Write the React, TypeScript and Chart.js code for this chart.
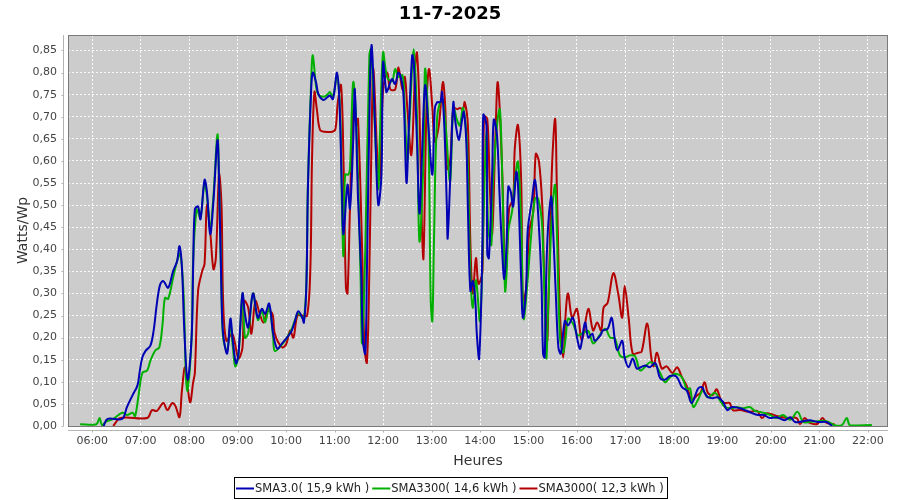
import React, { useEffect, useRef } from "react";
import { Chart, registerables } from "chart.js";

Chart.register(...registerables);

const TITLE = "11-7-2025";
const X_TITLE = "Heures";
const Y_TITLE = "Watts/Wp";
const FONT = "'DejaVu Sans', sans-serif";

const seriesLabels = ["SMA3.0( 15,9 kWh )", "SMA3300( 14,6 kWh )", "SMA3000( 12,3 kWh )"];
const seriesColors = ["#0000b4", "#00b000", "#b40000"];

// x tick labels (hours of day) and y tick values
const xTickHours = [6, 7, 8, 9, 10, 11, 12, 13, 14, 15, 16, 17, 18, 19, 20, 21, 22];
const yTickValues = [0, 0.05, 0.1, 0.15, 0.2, 0.25, 0.3, 0.35, 0.4, 0.45, 0.5, 0.55, 0.6, 0.65, 0.7, 0.75, 0.8, 0.85];

// SMA3.0 — time in minutes since midnight / value in W/Wp
const sma30Minutes = [
  374, 379, 397, 403, 410, 416, 419, 422, 426, 432,
  436, 440, 444, 448, 454, 460, 465, 468, 471, 474,
  478, 483, 485, 487, 491, 494, 499, 502, 506, 510,
  515, 517, 520, 522, 527, 531, 534, 538, 541, 546,
  549, 553, 559, 565, 570, 574, 579, 584, 589, 595,
  601, 607, 611, 615, 620, 622, 625, 627, 631, 633,
  637, 640, 646, 651, 654, 658, 663, 666, 669, 671,
  676, 679, 683, 685, 689, 693, 695, 698, 700, 704,
  706, 710, 714, 718, 720, 724, 726, 731, 735, 739,
  744, 746, 749, 752, 756, 758, 762, 765, 768, 772,
  776, 781, 784, 787, 791, 793, 796, 799, 800, 804,
  807, 809, 812, 814, 818, 820, 823, 825, 828, 831,
  834, 836, 839, 843, 844, 848, 849, 851, 855, 857,
  861, 864, 867, 870, 873, 875, 878, 881, 885, 887,
  891, 893, 897, 899, 904, 908, 912, 916, 918, 920,
  923, 928, 930, 934, 937, 940, 945, 949, 955, 960,
  964, 970, 974, 979, 982, 989, 992, 998, 1003, 1007,
  1010, 1016, 1019, 1024, 1029, 1034, 1039, 1045, 1050, 1057,
  1063, 1069, 1075, 1083, 1090, 1096, 1102, 1110, 1115, 1118,
  1122, 1128, 1134, 1141, 1146, 1152, 1162, 1168, 1177, 1184,
  1191, 1199, 1207, 1217, 1224, 1230, 1240, 1248, 1258, 1269,
  1276,
];
const sma30Values = [
  0, 0.016, 0.016, 0.043, 0.07, 0.092, 0.126, 0.155, 0.17, 0.182,
  0.216, 0.277, 0.32, 0.328, 0.313, 0.35, 0.373, 0.407, 0.36, 0.216,
  0.105, 0.2, 0.367, 0.49, 0.497, 0.468, 0.557, 0.53, 0.434, 0.508,
  0.647, 0.55, 0.3, 0.209, 0.164, 0.243, 0.193, 0.142, 0.164, 0.3,
  0.254, 0.223, 0.3, 0.245, 0.265, 0.254, 0.277, 0.209, 0.175, 0.187,
  0.2, 0.216, 0.238, 0.26, 0.245, 0.234, 0.313, 0.54, 0.762, 0.8,
  0.778, 0.751, 0.738, 0.744, 0.748, 0.74, 0.8, 0.733, 0.537, 0.434,
  0.546, 0.492, 0.643, 0.762, 0.515, 0.344, 0.193, 0.164, 0.35, 0.794,
  0.861, 0.681, 0.501, 0.569, 0.823, 0.756, 0.762, 0.785, 0.774, 0.8,
  0.771, 0.717, 0.55, 0.681, 0.839, 0.823, 0.643, 0.481, 0.605, 0.771,
  0.681, 0.569, 0.717, 0.733, 0.733, 0.756, 0.67, 0.492, 0.425, 0.605,
  0.733, 0.695, 0.659, 0.648, 0.695, 0.711, 0.643, 0.492, 0.306, 0.328,
  0.29, 0.209, 0.153, 0.418, 0.704, 0.68, 0.389, 0.38, 0.569, 0.693,
  0.659, 0.531, 0.411, 0.333, 0.418, 0.542, 0.53, 0.497, 0.575, 0.545,
  0.328, 0.245, 0.31, 0.441, 0.508, 0.557, 0.479, 0.33, 0.164, 0.155,
  0.403, 0.519, 0.463, 0.29, 0.178, 0.164, 0.238, 0.228, 0.245, 0.2,
  0.175, 0.234, 0.2, 0.209, 0.193, 0.205, 0.216, 0.22, 0.245, 0.193,
  0.171, 0.193, 0.155, 0.133, 0.153, 0.13, 0.133, 0.137, 0.133, 0.142,
  0.108, 0.105, 0.113, 0.112, 0.088, 0.08, 0.052, 0.085, 0.088, 0.075,
  0.065, 0.063, 0.065, 0.054, 0.036, 0.043, 0.04, 0.036, 0.029, 0.025,
  0.025, 0.018, 0.02, 0.013, 0.02, 0.009, 0.011, 0.013, 0.009, 0.009,
  0,
];

// SMA3300
const sma3300Minutes = [
  345, 365, 369, 372, 377, 386, 397, 403, 410, 413,
  417, 422, 428, 432, 438, 443, 447, 450, 454, 460,
  465, 469, 473, 476, 478, 483, 485, 489, 491, 494,
  499, 502, 506, 510, 515, 517, 520, 522, 527, 531,
  534, 537, 541, 546, 549, 553, 559, 565, 570, 574,
  579, 584, 586, 595, 601, 607, 611, 615, 620, 622,
  625, 627, 631, 633, 637, 640, 646, 651, 654, 658,
  663, 667, 669, 671, 673, 677, 679, 683, 687, 692,
  694, 698, 703, 705, 708, 714, 716, 720, 725, 731,
  735, 739, 744, 746, 750, 753, 758, 762, 765, 770,
  772, 776, 779, 781, 783, 787, 793, 797, 803, 807,
  812, 815, 819, 824, 828, 831, 835, 840, 844, 848,
  850, 854, 856, 864, 867, 871, 873, 875, 880, 883,
  887, 891, 894, 898, 903, 908, 912, 917, 922, 924,
  929, 933, 935, 939, 943, 946, 949, 955, 961, 967,
  974, 980, 986, 995, 1001, 1007, 1013, 1019, 1026, 1032,
  1038, 1044, 1050, 1057, 1063, 1069, 1075, 1081, 1090, 1096,
  1100, 1104, 1110, 1116, 1122, 1131, 1137, 1143, 1152, 1158,
  1165, 1174, 1180, 1186, 1193, 1199, 1207, 1215, 1224, 1233,
  1240, 1248, 1258, 1269, 1279, 1288, 1294, 1298, 1325,
];
const sma3300Values = [
  0.004, 0.004, 0.018, 0.002, 0.01, 0.016, 0.03, 0.025, 0.03, 0.022,
  0.065, 0.12, 0.126, 0.148, 0.171, 0.178, 0.23, 0.29, 0.288, 0.335,
  0.373, 0.39, 0.3, 0.11, 0.08, 0.2, 0.38, 0.49, 0.485, 0.47,
  0.55, 0.52, 0.45, 0.52, 0.66, 0.55, 0.3, 0.2, 0.17, 0.23,
  0.18, 0.135, 0.16, 0.3, 0.2, 0.21, 0.3, 0.24, 0.26, 0.235,
  0.27, 0.2, 0.17, 0.185, 0.2, 0.22, 0.24, 0.255, 0.245, 0.24,
  0.32, 0.55, 0.78, 0.839, 0.77, 0.75, 0.745, 0.75, 0.756, 0.745,
  0.794, 0.7, 0.5, 0.385, 0.569, 0.569, 0.582, 0.778, 0.68, 0.35,
  0.187, 0.4, 0.839, 0.853, 0.75, 0.537, 0.65, 0.845, 0.79, 0.78,
  0.808, 0.79, 0.794, 0.75, 0.6, 0.7, 0.853, 0.7, 0.418, 0.6,
  0.808, 0.68, 0.283, 0.238, 0.418, 0.7, 0.74, 0.69, 0.553, 0.72,
  0.69, 0.68, 0.72, 0.63, 0.35, 0.268, 0.33, 0.238, 0.45, 0.666,
  0.45, 0.41, 0.55, 0.717, 0.6, 0.306, 0.35, 0.441, 0.49, 0.553,
  0.598, 0.45, 0.243, 0.31, 0.425, 0.515, 0.515, 0.45, 0.155, 0.25,
  0.479, 0.546, 0.45, 0.2, 0.166, 0.2, 0.243, 0.232, 0.205, 0.21,
  0.215, 0.187, 0.2, 0.22, 0.2, 0.198, 0.16, 0.155, 0.16, 0.158,
  0.126, 0.133, 0.144, 0.138, 0.12, 0.099, 0.11, 0.118, 0.11, 0.083,
  0.085, 0.043, 0.06, 0.081, 0.065, 0.075, 0.058, 0.043, 0.04, 0.043,
  0.04, 0.043, 0.034, 0.032, 0.029, 0.025, 0.018, 0.025, 0.014, 0.032,
  0.009, 0.009, 0.011, 0.011, 0.002, 0.002, 0.018, 0.002, 0.002,
];

// SMA3000
const sma3000Minutes = [
  386, 395, 428, 434, 440, 448, 453, 459, 463, 468,
  471, 475, 481, 485, 487, 491, 496, 499, 502, 506,
  510, 513, 517, 520, 522, 526, 533, 536, 541, 546,
  548, 553, 557, 562, 567, 572, 577, 583, 586, 595,
  600, 605, 609, 614, 620, 626, 630, 632, 635, 638,
  642, 648, 657, 661, 664, 668, 671, 674, 676, 679,
  683, 687, 689, 694, 697, 700, 703, 706, 708, 713,
  716, 720, 725, 729, 735, 739, 744, 747, 750, 755,
  760, 762, 765, 768, 770, 774, 777, 781, 784, 789,
  794, 797, 799, 803, 807, 812, 815, 819, 821, 825,
  828, 831, 835, 838, 843, 845, 849, 852, 855, 859,
  862, 867, 871, 873, 876, 881, 883, 887, 891, 893,
  897, 901, 906, 909, 913, 917, 919, 923, 925, 929,
  933, 935, 939, 943, 946, 949, 954, 960, 966, 974,
  980, 985, 990, 993, 998, 1005, 1011, 1016, 1019, 1024,
  1029, 1036, 1040, 1047, 1052, 1055, 1059, 1065, 1071, 1078,
  1084, 1090, 1096, 1102, 1109, 1113, 1118, 1122, 1128, 1133,
  1139, 1144, 1149, 1153, 1162, 1174, 1183, 1189, 1195, 1209,
  1220, 1232, 1236, 1242, 1248, 1258, 1264, 1269, 1279,
];
const sma3000Values = [
  0, 0.018, 0.018, 0.036, 0.034, 0.052, 0.036, 0.052, 0.045, 0.02,
  0.08, 0.133, 0.054, 0.1, 0.12, 0.306, 0.35, 0.367, 0.5, 0.44,
  0.355, 0.38, 0.569, 0.5, 0.283, 0.193, 0.209, 0.193, 0.153, 0.178,
  0.283, 0.268, 0.209, 0.283, 0.256, 0.234, 0.26, 0.254, 0.209, 0.178,
  0.185, 0.216, 0.2, 0.25, 0.25, 0.25, 0.357, 0.6, 0.756, 0.717,
  0.67, 0.666, 0.666, 0.672, 0.733, 0.771, 0.6, 0.313, 0.3, 0.492,
  0.717, 0.681, 0.695, 0.403, 0.178, 0.144, 0.35, 0.681, 0.808, 0.605,
  0.56, 0.76, 0.8, 0.762, 0.762, 0.812, 0.762, 0.79, 0.72, 0.614,
  0.82, 0.845, 0.72, 0.456, 0.38, 0.74, 0.808, 0.72, 0.643, 0.68,
  0.778, 0.72, 0.582, 0.6, 0.72, 0.717, 0.72, 0.717, 0.733, 0.68,
  0.418, 0.3, 0.38, 0.322, 0.35, 0.7, 0.695, 0.55, 0.434, 0.65,
  0.778, 0.6, 0.344, 0.37, 0.492, 0.515, 0.627, 0.681, 0.55, 0.283,
  0.31, 0.441, 0.486, 0.616, 0.598, 0.5, 0.367, 0.193, 0.3, 0.582,
  0.695, 0.55, 0.254, 0.155, 0.254, 0.3, 0.245, 0.265, 0.193, 0.265,
  0.216, 0.234, 0.216, 0.268, 0.279, 0.346, 0.3, 0.245, 0.317, 0.245,
  0.164, 0.166, 0.168, 0.232, 0.155, 0.135, 0.166, 0.13, 0.135, 0.12,
  0.133, 0.11, 0.09, 0.06, 0.07, 0.075, 0.099, 0.075, 0.07, 0.083,
  0.055, 0.052, 0.052, 0.036, 0.036, 0.032, 0.034, 0.018, 0.029, 0.022,
  0.018, 0.018, 0.004, 0.018, 0.007, 0.005, 0.018, 0.007, 0.004,
];

const seriesMinutes = [sma30Minutes, sma3300Minutes, sma3000Minutes];
const seriesValues = [sma30Values, sma3300Values, sma3000Values];

const X_MIN = 330;
const X_MAX = 1345;
const Y_MIN = 0;
const Y_MAX = 0.885;

const fmtTime = (m: number) => {
  const h = Math.floor(m / 60);
  const mm = Math.round(m - h * 60);
  return String(h).padStart(2, "0") + ":" + String(mm).padStart(2, "0");
};

const decorPlugin = {
  id: "decor",
  beforeDraw(chart: any) {
    const { ctx, chartArea: a } = chart;
    ctx.save();
    ctx.fillStyle = "#ffffff";
    ctx.fillRect(0, 0, chart.width, chart.height);
    ctx.fillStyle = "#cccccc";
    ctx.fillRect(a.left, a.top, a.right - a.left, a.bottom - a.top);
    ctx.restore();
  },
  afterDraw(chart: any) {
    const { ctx, chartArea: a, scales } = chart;
    ctx.save();
    // plot outline
    ctx.strokeStyle = "#7a7a7a";
    ctx.lineWidth = 1;
    ctx.strokeRect(a.left + 0.5, a.top + 0.5, a.right - a.left - 1, a.bottom - a.top);

    // offset axis lines + tick marks
    ctx.strokeStyle = "#b4b4b4";
    const axX = a.left - 4.5;
    const axY = a.bottom + 4.5;
    ctx.beginPath();
    ctx.moveTo(axX, a.top);
    ctx.lineTo(axX, a.bottom);
    ctx.moveTo(a.left, axY);
    ctx.lineTo(a.right, axY);
    scales.y.ticks.forEach((t: any) => {
      const py = Math.round(scales.y.getPixelForValue(t.value)) + 0.5;
      ctx.moveTo(axX - 2, py);
      ctx.lineTo(axX, py);
    });
    scales.x.ticks.forEach((t: any) => {
      const px = Math.round(scales.x.getPixelForValue(t.value)) + 0.5;
      ctx.moveTo(px, axY);
      ctx.lineTo(px, axY + 2);
    });
    ctx.stroke();

    // title
    ctx.fillStyle = "#000000";
    ctx.font = "bold 18px " + FONT;
    ctx.textAlign = "center";
    ctx.textBaseline = "alphabetic";
    ctx.fillText(TITLE, chart.width / 2, 19);

    // axis titles
    ctx.fillStyle = "#333333";
    ctx.font = "14px " + FONT;
    ctx.fillText(X_TITLE, (a.left + a.right) / 2, 465);
    ctx.save();
    ctx.translate(27, (a.top + a.bottom) / 2);
    ctx.rotate(-Math.PI / 2);
    ctx.fillText(Y_TITLE, 0, 0);
    ctx.restore();

    // legend box
    ctx.font = "11.5px " + FONT;
    const lineLen = 18;
    const gapLine = 1;
    const gapItem = 3;
    const widths = seriesLabels.map((l) => ctx.measureText(l).width);
    const content =
      widths.reduce((s, w) => s + w + lineLen + gapLine, 0) + gapItem * (seriesLabels.length - 1);
    const boxW = Math.round(content + 5);
    const boxX = Math.round(chart.width / 2 - boxW / 2) + 0.5;
    const boxY = 477.5;
    const boxH = 21;
    ctx.fillStyle = "#ffffff";
    ctx.fillRect(boxX, boxY, boxW, boxH);
    ctx.strokeStyle = "#000000";
    ctx.lineWidth = 1;
    ctx.strokeRect(boxX, boxY, boxW, boxH);
    let x = boxX + 1.5;
    const cy = boxY + boxH / 2 + 0.5;
    ctx.textAlign = "left";
    ctx.textBaseline = "middle";
    seriesLabels.forEach((label, i) => {
      ctx.strokeStyle = seriesColors[i];
      ctx.lineWidth = 2;
      ctx.beginPath();
      ctx.moveTo(x, cy);
      ctx.lineTo(x + lineLen, cy);
      ctx.stroke();
      x += lineLen + gapLine;
      ctx.fillStyle = "#222222";
      ctx.fillText(label, x, cy + 0.5);
      x += widths[i] + gapItem;
    });
    ctx.restore();
  },
};

export default function App() {
  const canvasRef = useRef<HTMLCanvasElement | null>(null);

  useEffect(() => {
    if (!canvasRef.current) return;
    const datasets = seriesLabels.map((label, i) => ({
      label,
      data: seriesMinutes[i].map((m, j) => ({ x: m, y: seriesValues[i][j] })),
      borderColor: seriesColors[i],
      backgroundColor: seriesColors[i],
      borderWidth: 2,
      pointRadius: 0,
      tension: 0.35,
      fill: false,
      borderJoinStyle: "round" as const,
    }));

    const chart = new Chart(canvasRef.current, {
      type: "line",
      data: { datasets },
      plugins: [decorPlugin],
      options: {
        responsive: false,
        animation: false,
        events: [],
        layout: { padding: { top: 35, right: 12, bottom: 30, left: 0 } },
        plugins: {
          legend: { display: false },
          title: { display: false },
          tooltip: { enabled: false },
        },
        scales: {
          x: {
            type: "linear",
            min: X_MIN,
            max: X_MAX,
            afterFit: (s: any) => {
              s.height = 44;
            },
            afterBuildTicks: (s: any) => {
              s.ticks = xTickHours.map((h) => ({ value: h * 60 }));
            },
            grid: { color: "rgba(255,255,255,0.9)", lineWidth: 1, drawTicks: false },
            border: { display: false, dash: [2, 2] },
            ticks: {
              autoSkip: false,
              maxRotation: 0,
              padding: 9,
              color: "#444444",
              font: { family: FONT, size: 11 },
              callback: (v: any) => fmtTime(Number(v)),
            },
          },
          y: {
            type: "linear",
            min: Y_MIN,
            max: Y_MAX,
            afterFit: (s: any) => {
              s.width = 68;
            },
            afterBuildTicks: (s: any) => {
              s.ticks = yTickValues.map((v) => ({ value: v }));
            },
            grid: { color: "rgba(255,255,255,0.9)", lineWidth: 1, drawTicks: false },
            border: { display: false, dash: [2, 2] },
            ticks: {
              padding: 11,
              color: "#444444",
              font: { family: FONT, size: 11 },
              callback: (v: any) => Number(v).toFixed(2).replace(".", ","),
            },
          },
        },
      },
    });
    return () => chart.destroy();
  }, []);

  return (
    <div style={{ position: "absolute", left: 0, top: 0, width: 900, height: 500, background: "#fff" }}>
      <canvas ref={canvasRef} width={900} height={500} style={{ display: "block" }} />
    </div>
  );
}
